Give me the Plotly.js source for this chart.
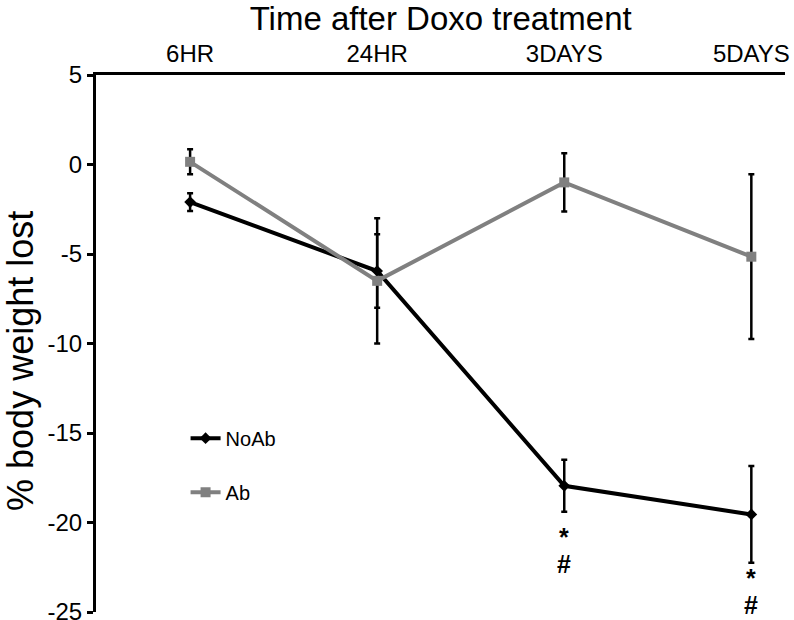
<!DOCTYPE html>
<html>
<head>
<meta charset="utf-8">
<script src="https://cdn.plot.ly/plotly-3.0.1.min.js"></script>
<style>
  html, body { margin: 0; padding: 0; background: #fff; }
  #chart { width: 794px; height: 620px; }
</style>
</head>
<body>
<div id="chart"></div>
<script>
// time points after treatment
var timeLabels = ['6HR', '24HR', '3DAYS', '5DAYS'];
var timeIdx = [0, 1, 2, 3];

// y ticks (plain hyphen like the original)
var yTickVals = [5, 0, -5, -10, -15, -20, -25];
var yTickText = ['5', '0', '-5', '-10', '-15', '-20', '-25'];

// % body weight lost, mean and error
var noAbMean = [-2.1, -5.95, -17.95, -19.55];
var noAbErr  = [0.5, 2.05, 1.45, 2.7];
var abMean   = [0.15, -6.5, -1.0, -5.15];
var abErr    = [0.7, 3.5, 1.63, 4.6];

// significance marks under the NoAb points
var sigX = [2, 2, 3, 3];
var sigY = [-20.8, -22.3, -23.1, -24.6];
var sigText = ['*', '#', '*', '#'];

var font = 'Liberation Sans, Arial, sans-serif';

var noAb = {
  x: timeIdx,
  y: noAbMean,
  name: 'NoAb',
  type: 'scatter',
  mode: 'lines+markers',
  legendgroup: 'a',
  line: {color: '#000000', width: 4},
  marker: {symbol: 'diamond', size: 9, color: '#000000'},
  error_y: {type: 'data', array: noAbErr, visible: true, color: '#000000', thickness: 2.5, width: 3}
};

var ab = {
  x: timeIdx,
  y: abMean,
  name: 'Ab',
  type: 'scatter',
  mode: 'lines+markers',
  legendgroup: 'b',
  line: {color: '#808080', width: 4},
  marker: {symbol: 'square', size: 10, color: '#808080'},
  error_y: {type: 'data', array: abErr, visible: true, color: '#000000', thickness: 2.5, width: 3}
};

var notes = [];
for (var i = 0; i < sigText.length; i++) {
  notes.push({
    x: sigX[i], y: sigY[i], xref: 'x', yref: 'y',
    text: '<b>' + sigText[i] + '</b>', showarrow: false,
    font: {family: font, size: 25, color: '#000'}
  });
}
notes.push({
  xref: 'paper', yref: 'paper', x: -0.115, y: 0.468, xshift: -19,
  text: '% body weight lost', textangle: -90, showarrow: false,
  font: {family: font, size: 36, color: '#000'}
});

var layout = {
  width: 794,
  height: 620,
  margin: {l: 96, r: 9, t: 75, b: 8},
  paper_bgcolor: '#ffffff',
  plot_bgcolor: '#ffffff',
  font: {family: font, color: '#000'},
  title: {
    text: 'Time after Doxo treatment',
    font: {family: font, size: 33, color: '#000'},
    x: 0.555, xanchor: 'center', yref: 'container', y: 0.97, yanchor: 'middle'
  },
  showlegend: true,
  legend: {
    x: 0.13, y: 0.36, xanchor: 'left', yanchor: 'top',
    font: {family: font, size: 20, color: '#000'},
    bgcolor: 'rgba(0,0,0,0)',
    tracegroupgap: 25
  },
  xaxis: {
    side: 'top',
    range: [-0.503, 3.18],
    tickvals: timeIdx,
    ticktext: timeLabels,
    tickfont: {family: font, size: 24, color: '#000'},
    ticks: '',
    showgrid: false,
    zeroline: false,
    showline: true,
    linecolor: '#000',
    linewidth: 3
  },
  yaxis: {
    range: [-25, 5],
    tickvals: yTickVals,
    ticktext: yTickText,
    tickfont: {family: font, size: 24, color: '#000'},
    ticklabeloverflow: 'allow',
    ticks: 'outside',
    ticklen: 6,
    tickwidth: 3,
    tickcolor: '#000',
    showgrid: false,
    zeroline: false,
    showline: true,
    linecolor: '#000',
    linewidth: 3
  },
  annotations: notes
};

Plotly.newPlot('chart', [noAb, ab], layout, {displayModeBar: false, staticPlot: true});
</script>
</body>
</html>
